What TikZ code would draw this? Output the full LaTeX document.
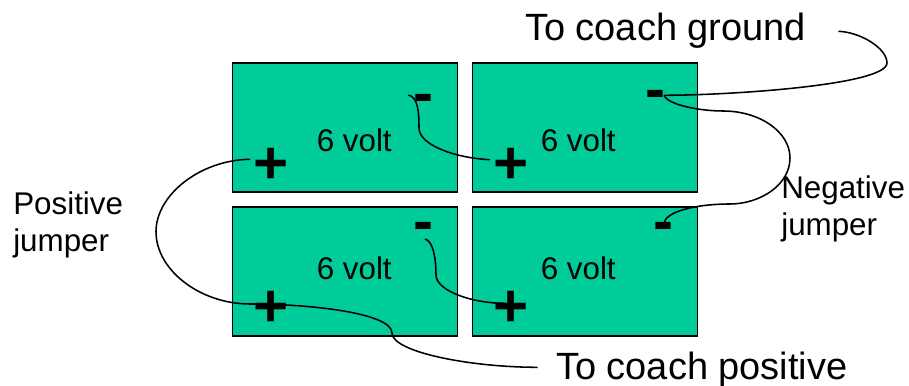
\documentclass[tikz,border=0pt]{standalone}
\usepackage{fontspec}
\setmainfont{Liberation Sans}
\usetikzlibrary{positioning}
\definecolor{battgreen}{RGB}{0,204,153}
\tikzset{
  battery/.style={draw, line width=1.3pt, fill=battgreen, minimum width=160pt, minimum height=91.3pt, inner sep=0pt},
  volt/.style={inner sep=0pt, anchor=base west, font=\fontsize{22.3}{27}\selectfont},
  bigtext/.style={inner sep=0pt, anchor=base west, font=\fontsize{27}{30}\selectfont},
  jumpertext/.style={inner sep=0pt, anchor=base west, align=left, font=\fontsize{22.3}{27}\selectfont},
  terminal/.style={inner sep=0pt, anchor=base, font=\fontsize{42.7}{44}\selectfont\bfseries},
  wire/.style={line width=1.1pt}
}
\begin{document}
\begin{tikzpicture}[x=0.025cm, y=-0.025cm]
    \useasboundingbox (0,0) rectangle (909,386);
    \node[battery] (topleft) at (345,127.5) {};
    \node[battery] (topright) at (585,127.5) {};
    \node[battery] (botleft) at (345,271.5) {};
    \node[battery] (botright) at (585,271.5) {};

    \node[volt] (volta) at (316.5,152) {6 volt};
    \node[volt] (voltb) at (540.5,152) {6 volt};
    \node[volt] (voltc) at (316.5,280) {6 volt};
    \node[volt] (voltd) at (540.5,280) {6 volt};

    \node[terminal] (plusa) at (271,184) {+};
    \node[terminal] (plusb) at (511,184) {+};
    \node[terminal] (plusc) at (271,327) {+};
    \node[terminal] (plusd) at (511,327) {+};
    \node[terminal] (minusa) at (423,114) {-};
    \node[terminal] (minusb) at (655,110) {-};
    \node[terminal] (minusc) at (423,242) {-};
    \node[terminal] (minusd) at (663,242) {-};

    \node[bigtext] (ground) at (525,41) {To coach ground};
    \node[bigtext] (positive) at (556,380) {To coach positive};
    \node[jumpertext] (posjump) at (13,252) {Positive\\jumper};
    \node[jumpertext] (negjump) at (781,236) {Negative\\jumper};

    \coordinate (wirea) at (408.3,95);
    \coordinate (wireb) at (490,159.7);
    \coordinate (wirec) at (838.3,31.3);
    \coordinate (wired) at (664,95.3);
    \coordinate (wiree) at (664,224);
    \coordinate (wiref) at (250,159.3);
    \coordinate (wireg) at (250,304);
    \coordinate (wireh) at (537.7,367.3);
    \coordinate (wirei) at (425,239);
    \coordinate (wirej) at (505,303.3);

    \draw[wire] (wirea) .. controls (418,97) and (419,112) .. (419,128)
        .. controls (419,145) and (455,158) .. (wireb);
    \draw[wire] (wirec) .. controls (860,32) and (887,48) .. (887,63)
        .. controls (887,85) and (730,95.3) .. (wired);
    \draw[wire] (wired) .. controls (668,105) and (700,111) .. (723,111)
        .. controls (760,111) and (790,132) .. (790,158)
        .. controls (790,185) and (760,204) .. (730,204)
        .. controls (695,204) and (664,212) .. (wiree);
    \draw[wire] (wiref) .. controls (200,160) and (156,195) .. (156,231.7)
        .. controls (156,270) and (200,304) .. (wireg);
    \draw[wire] (wireg) .. controls (310,304) and (392,313) .. (392,333)
        .. controls (392,352) and (470,367.3) .. (wireh);
    \draw[wire] (wirei) .. controls (433,241) and (436,258) .. (436,275)
        .. controls (436,290) and (470,303.3) .. (wirej);
\end{tikzpicture}
\end{document}
